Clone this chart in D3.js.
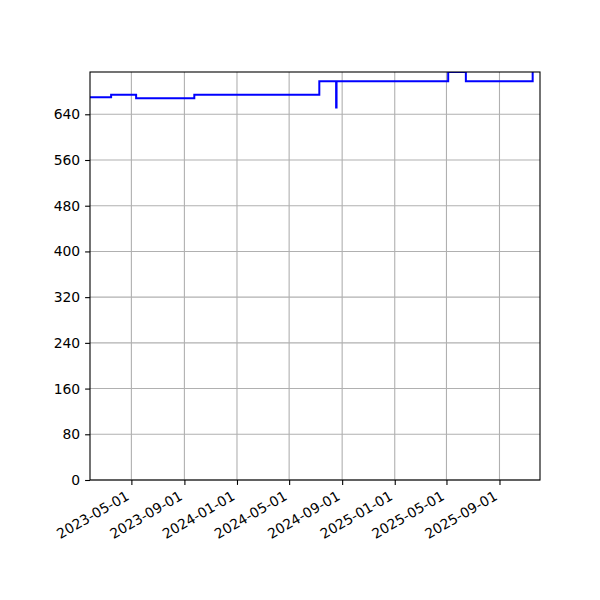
<!DOCTYPE html>
<html>
<head>
<meta charset="utf-8">
<script src="https://cdn.jsdelivr.net/npm/d3@7"></script>
<style>
  body { margin: 0; background: #fff; }
  text { font-family: "DejaVu Sans", sans-serif; font-size: 13.9px; fill: #000; }
</style>
</head>
<body>
<svg id="chart"></svg>
<script>
// step data: date the value starts, value held until next date
let dates = ["2023-01-20", "2023-03-15", "2023-05-12", "2023-09-24", "2024-07-10",
    "2024-08-18", "2024-08-19", "2025-05-05", "2025-06-15", "2025-11-17"];
let values = [670, 674, 668, 674, 698, 652, 698, 714, 698, 730];
let xTicks = ["2023-05-01", "2023-09-01", "2024-01-01", "2024-05-01",
    "2024-09-01", "2025-01-01", "2025-05-01", "2025-09-01"];
let yTicks = [0, 80, 160, 240, 320, 400, 480, 560, 640];
let xLimits = ["2023-01-25", "2025-12-04"];
let yLimits = [0, 714];

let margin = {top: 72, right: 60, bottom: 120, left: 90},
    width = 600 - margin.left - margin.right,
    height = 600 - margin.top - margin.bottom;

let parse = d3.utcParse("%Y-%m-%d");
let data = dates.map(function (d, i) {
    return {date: parse(d), value: values[i]};
});

let svg = d3.select("#chart")
    .attr("width", 600)
    .attr("height", 600)
    .append("g")
    .attr("transform", "translate(" + margin.left + "," + margin.top + ")");

let x = d3.scaleUtc()
    .domain(xLimits.map(parse))
    .range([0, width]);
let y = d3.scaleLinear()
    .domain(yLimits)
    .range([height, 0]);

// grid
svg.append("g")
    .selectAll("line")
    .data(xTicks.map(parse))
    .enter()
    .append("line")
    .attr("x1", function (d) { return x(d); })
    .attr("x2", function (d) { return x(d); })
    .attr("y1", 0)
    .attr("y2", height)
    .attr("stroke", "#b0b0b0")
    .attr("stroke-width", 1.1);
svg.append("g")
    .selectAll("line")
    .data(yTicks)
    .enter()
    .append("line")
    .attr("x1", 0)
    .attr("x2", width)
    .attr("y1", function (d) { return y(d); })
    .attr("y2", function (d) { return y(d); })
    .attr("stroke", "#b0b0b0")
    .attr("stroke-width", 1.1);

svg.append("clipPath")
    .attr("id", "clip")
    .append("rect")
    .attr("width", width)
    .attr("height", height);

let line = d3.line()
    .curve(d3.curveStepAfter)
    .x(function (d) { return x(d.date); })
    .y(function (d) { return y(d.value); });

svg.append("path")
    .datum(data)
    .attr("clip-path", "url(#clip)")
    .attr("fill", "none")
    .attr("stroke", "#0000ff")
    .attr("stroke-width", 2)
    .attr("d", line);

// axes
let xAxis = svg.append("g")
    .attr("transform", "translate(0," + height + ")")
    .call(d3.axisBottom(x)
        .tickValues(xTicks.map(parse))
        .tickFormat(d3.utcFormat("%Y-%m-%d"))
        .tickSize(4.9)
        .tickPadding(4.9));
// rotated 30 degrees, right/top of rotated box at the tick
xAxis.selectAll("text")
    .attr("text-anchor", "end")
    .attr("x", -5.9)
    .attr("y", 7)
    .attr("dy", 0)
    .attr("transform", "translate(0,9.8) rotate(-30)");

svg.append("g")
    .call(d3.axisLeft(y)
        .tickValues(yTicks)
        .tickSize(4.9)
        .tickPadding(4.9));

svg.selectAll(".domain").remove();
svg.selectAll(".tick line").attr("stroke", "#000").attr("stroke-width", 1.1);
svg.selectAll(".tick text").style("font-family", "DejaVu Sans").style("font-size", "13.9px");

svg.append("rect")
    .attr("width", width)
    .attr("height", height)
    .attr("fill", "none")
    .attr("stroke", "#000")
    .attr("stroke-width", 1.1);
</script>
</body>
</html>
